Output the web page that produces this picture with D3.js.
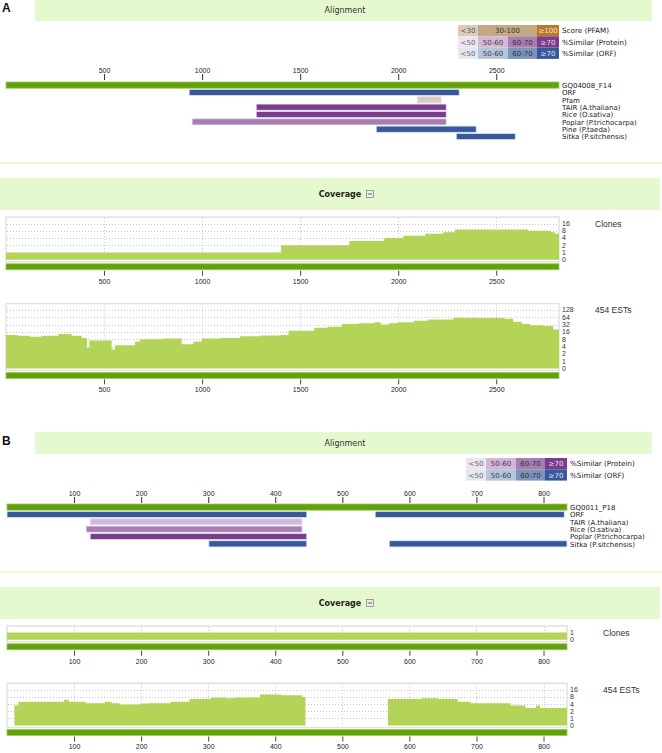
<!DOCTYPE html>
<html><head><meta charset="utf-8">
<script src="https://cdn.jsdelivr.net/npm/d3@7"></script>
<style>body{margin:0;background:#fff}svg{display:block}</style>
</head><body>
<svg id="c" width="662" height="753"></svg>
<script>
// ---------------- DATA ----------------
const panelNames = ["A", "B"];
const lengthA = 2820, lengthB = 835;
const seqNameA = "GQ04008_F14", seqNameB = "GQ0011_P18";
const ticksA = [500, 1000, 1500, 2000, 2500];
const ticksB = [100, 200, 300, 400, 500, 600, 700, 800];
const scoreLegend = ["<30", "30-100", "≥100"];
const simLegend = ["<50", "50-60", "60-70", "≥70"];
const legendRowNames = ["Score (PFAM)", "%Similar (Protein)", "%Similar (ORF)"];

const tracksA = ["ORF", "Pfam", "TAIR (A.thaliana)", "Rice (O.sativa)", "Poplar (P.trichocarpa)", "Pine (P.taeda)", "Sitka (P.sitchensis)"];
const hitTrackA = [0, 1, 2, 3, 4, 5, 6];
const hitStartA = [934, 2097, 1276, 1276, 949, 1888, 2296];
const hitEndA = [2311, 2219, 2245, 2245, 2245, 2398, 2597];
const hitKindA = ["orf", "score", "protein", "protein", "protein", "orf", "orf"];
const hitClassA = [3, 0, 3, 3, 2, 3, 3];

const tracksB = ["ORF", "TAIR (A.thaliana)", "Rice (O.sativa)", "Poplar (P.trichocarpa)", "Sitka (P.sitchensis)"];
const hitTrackB = [0, 0, 1, 2, 3, 4, 4];
const hitStartB = [0, 549, 124, 118, 124, 301, 570];
const hitEndB = [447, 831, 440, 440, 447, 447, 835];
const hitKindB = ["orf", "orf", "protein", "protein", "protein", "orf", "orf"];
const hitClassB = [3, 3, 1, 2, 3, 3, 3];

const clonesLevelsA = [16, 8, 4, 2, 1, 0];
const clonesAPos = [0, 1403, 1750, 1929, 2026, 2138, 2230, 2290, 2663, 2776, 2800];
const clonesAVal = [1, 2, 3, 4, 5, 6, 7, 9, 8, 7, 6];

const estLevelsA = [128, 64, 32, 16, 8, 4, 2, 1, 0];
const estAPos = [0, 60, 122, 180, 224, 267, 335, 386, 413, 425, 539, 556, 658, 684, 800, 896, 956, 998, 1092, 1194, 1300, 1400, 1441, 1572, 1640, 1713, 1800, 1880, 1910, 1952, 1997, 2080, 2150, 2281, 2400, 2543, 2586, 2630, 2672, 2740, 2790];
const estAVal = [12, 11, 10, 11, 11, 13, 11, 9, 3.5, 7, 3, 4.5, 6.5, 8, 8.5, 5, 6.5, 8.5, 9, 10.5, 11.5, 12, 18, 24, 26, 34, 36, 40, 32, 36, 40, 46, 52, 62, 60, 56, 42, 34, 30, 28, 20];

const clonesLevelsB = [1, 0];
const clonesBPos = [0];
const clonesBVal = [1];

const estLevelsB = [16, 8, 4, 2, 1, 0];
const estBPos = [0, 11, 17, 85, 92, 117, 146, 156, 168, 199, 212, 244, 272, 304, 326, 339, 377, 409, 440, 445, 568, 618, 643, 672, 691, 751, 773, 789, 795];
const estBVal = [0, 3.5, 5, 6, 5, 4.3, 5, 4.3, 3.8, 4.2, 4.3, 5, 6.5, 7.5, 7, 7.5, 10, 9.5, 8, 0, 6.5, 7, 6.5, 5, 4.3, 3.5, 2.7, 3.5, 2.7];

// ---------------- STYLE ----------------
const COL = {
  band: "#e4f9cd", green: "#62a10a", greenStroke: "#98cb58", area: "#b4d457",
  frame: "#e2e2e2", grid: "#b8b8b8", text: "#222"
};
const orfColors = ["#e4e8f0", "#b4c4da", "#7b94ba", "#37599b"];
const protColors = ["#efe4f0", "#d4b6d9", "#a97db2", "#7d3b8b"];
const scoreColors = ["#dccbba", "#c3a883", "#b87a2a"];
const simTextCol = ["#666", "#444", "#333", "#e0e0f0"];
const scoreTextCol = ["#555", "#333", "#f6e6c0"];
const FONT = "DejaVu Sans, Verdana, sans-serif";
const NFONT = "Liberation Sans, Arial, sans-serif";

const svg = d3.select("#c");
const lg = v => v <= 0 ? -1 : Math.log2(v);

function drawPanel(p) {
  const g = svg.append("g");
  const x = d3.scaleLinear().domain([0, p.length]).range(p.xRange);
  const xEnd = x(p.length);

  g.append("text").attr("x", 2).attr("y", p.top + 12).text(p.name)
    .attr("font-family", NFONT).attr("font-weight", "bold").attr("font-size", 12).attr("fill", "#111");

  g.append("rect").attr("x", 35).attr("y", p.top - 1).attr("width", 617).attr("height", 22).attr("fill", COL.band);
  g.append("text").attr("x", 345).attr("y", p.top + 13).attr("text-anchor", "middle").text("Alignment")
    .attr("font-family", FONT).attr("font-size", 8).attr("fill", "#333");

  let ly = p.legendTop;
  const rowH = 11.3;
  p.legendRows.forEach(r => {
    const widths = r.kind === "score" ? [20, 59, 22] : [20, 30, 29, 22];
    const labels = r.kind === "score" ? scoreLegend : simLegend;
    const cols = r.kind === "score" ? scoreColors : (r.kind === "protein" ? protColors : orfColors);
    const tcols = r.kind === "score" ? scoreTextCol : simTextCol;
    const total = d3.sum(widths);
    let cx = xEnd - total;
    labels.forEach((l, i) => {
      g.append("rect").attr("x", cx).attr("y", ly).attr("width", widths[i]).attr("height", rowH).attr("fill", cols[i]);
      g.append("text").attr("x", cx + widths[i] / 2).attr("y", ly + 8.3).attr("text-anchor", "middle").text(l)
        .attr("font-family", FONT).attr("font-size", 7).attr("fill", tcols[i]);
      cx += widths[i];
    });
    g.append("text").attr("x", xEnd + 3).attr("y", ly + 8.3).text(r.label)
      .attr("font-family", FONT).attr("font-size", 7.2).attr("fill", COL.text);
    ly += rowH;
  });

  const axTop = d3.axisTop(x).tickValues(p.ticks).tickSize(6).tickPadding(1.5).tickFormat(d3.format("d"));
  const ag = g.append("g").attr("transform", `translate(0,${p.axisY})`).call(axTop);
  ag.select(".domain").remove();
  ag.selectAll("line").attr("stroke", "#333");
  ag.selectAll("text").attr("font-family", NFONT).attr("font-size", 7).attr("fill", "#222");

  const rowStep = 7.35, barH = 6.2;
  const rowY = i => p.rowsTop + i * rowStep;
  g.append("rect").attr("x", x(0)).attr("y", rowY(0)).attr("width", x(p.length) - x(0)).attr("height", barH)
    .attr("fill", COL.green).attr("stroke", COL.greenStroke).attr("stroke-width", 0.8);
  const names = [p.seqName].concat(p.tracks);
  names.forEach((n, i) => {
    g.append("text").attr("x", xEnd + 3).attr("y", rowY(i) + 6).text(n)
      .attr("font-family", FONT).attr("font-size", 7).attr("fill", COL.text);
  });
  p.hitTrack.forEach((t, i) => {
    const kind = p.hitKind[i], c = p.hitClass[i];
    const fill = kind === "orf" ? orfColors[c] : kind === "protein" ? protColors[c] : scoreColors[c];
    g.append("rect").attr("x", x(p.hitStart[i])).attr("y", rowY(t + 1))
      .attr("width", x(p.hitEnd[i]) - x(p.hitStart[i])).attr("height", barH)
      .attr("fill", fill).attr("stroke", "#dfe6f2").attr("stroke-width", 0.8);
  });

  g.append("rect").attr("x", 0).attr("y", p.sepY).attr("width", 662).attr("height", 1.5).attr("fill", COL.band);

  g.append("rect").attr("x", 0).attr("y", p.covTop).attr("width", 660).attr("height", 32).attr("fill", COL.band);
  g.append("text").attr("x", 340).attr("y", p.covTop + 19).attr("text-anchor", "middle").text("Coverage")
    .attr("font-family", FONT).attr("font-weight", "bold").attr("font-size", 8).attr("fill", "#222");
  g.append("rect").attr("x", 366.5).attr("y", p.covTop + 12.5).attr("width", 7).attr("height", 7)
    .attr("fill", "#eee").attr("stroke", "#888").attr("stroke-width", 0.8);
  g.append("line").attr("x1", 368.3).attr("x2", 372).attr("y1", p.covTop + 16).attr("y2", p.covTop + 16)
    .attr("stroke", "#444").attr("stroke-width", 0.9);

  p.charts.forEach(ch => {
    const maxE = lg(ch.levels[0]);
    const y = d3.scaleLinear().domain([-1, maxE]).range([ch.zeroY, ch.zeroY - (maxE + 1) * ch.step]);
    const boxTop = y(maxE) - 6.5, boxBot = ch.zeroY + 2;
    g.append("rect").attr("x", x(0)).attr("y", boxTop).attr("width", xEnd - x(0)).attr("height", boxBot - boxTop)
      .attr("fill", "#fff").attr("stroke", COL.frame).attr("stroke-width", 1.5);
    ch.levels.filter(v => v > 0).forEach(v => {
      g.append("line").attr("x1", x(0) + 1).attr("x2", xEnd - 1).attr("y1", Math.round(y(lg(v))) + 0.5).attr("y2", Math.round(y(lg(v))) + 0.5)
        .attr("stroke", COL.grid).attr("stroke-width", 0.8).attr("stroke-dasharray", "1,2");
    });
    p.ticks.forEach(t => {
      g.append("line").attr("x1", Math.round(x(t)) + 0.5).attr("x2", Math.round(x(t)) + 0.5).attr("y1", boxTop + 1).attr("y2", ch.zeroY)
        .attr("stroke", COL.grid).attr("stroke-width", 0.8).attr("stroke-dasharray", "1,2");
    });
    const pts = ch.pos.map((d, i) => ({ pos: d, val: ch.val[i] }));
    pts.push({ pos: p.length, val: ch.val[ch.val.length - 1] });
    const area = d3.area().curve(d3.curveStepAfter)
      .x(d => x(d.pos)).y0(ch.zeroY).y1(d => d.val <= 0 ? ch.zeroY : y(lg(d.val)));
    g.append("path").datum(pts).attr("d", area).attr("fill", COL.area);
    ch.levels.forEach(v => {
      g.append("text").attr("x", xEnd + 3).attr("y", y(lg(v))).attr("dy", "0.35em").text(v)
        .attr("font-family", NFONT).attr("font-size", 7).attr("fill", "#333");
    });
    g.append("text").attr("x", xEnd + 36).attr("y", y(maxE) + 3).text(ch.title)
      .attr("font-family", NFONT).attr("font-size", 8.5).attr("fill", "#333");
    const gb = ch.zeroY + 4;
    g.append("rect").attr("x", x(0)).attr("y", gb).attr("width", xEnd - x(0)).attr("height", 6)
      .attr("fill", COL.green).attr("stroke", COL.greenStroke).attr("stroke-width", 0.8);
    const axB = d3.axisBottom(x).tickValues(p.ticks).tickSize(5).tickPadding(3).tickFormat(d3.format("d"));
    const bg = g.append("g").attr("transform", `translate(0,${gb + 7})`).call(axB);
    bg.select(".domain").remove();
    bg.selectAll("line").attr("stroke", "#444");
    bg.selectAll("text").attr("font-family", NFONT).attr("font-size", 7).attr("fill", "#222");
  });
}

drawPanel({
  name: panelNames[0], top: 0, length: lengthA, xRange: [6, 559], ticks: ticksA,
  legendTop: 25, legendRows: [
    { kind: "score", label: legendRowNames[0] },
    { kind: "protein", label: legendRowNames[1] },
    { kind: "orf", label: legendRowNames[2] }],
  axisY: 80, rowsTop: 82, seqName: seqNameA, tracks: tracksA,
  hitTrack: hitTrackA, hitStart: hitStartA, hitEnd: hitEndA, hitKind: hitKindA, hitClass: hitClassA,
  sepY: 162.5, covTop: 178,
  charts: [
    { title: "Clones", levels: clonesLevelsA, pos: clonesAPos, val: clonesAVal, zeroY: 259.75, step: 7.25 },
    { title: "454 ESTs", levels: estLevelsA, pos: estAPos, val: estAVal, zeroY: 368.4, step: 7.3 }
  ]
});

drawPanel({
  name: panelNames[1], top: 433, length: lengthB, xRange: [7, 567], ticks: ticksB,
  legendTop: 458, legendRows: [
    { kind: "protein", label: legendRowNames[1] },
    { kind: "orf", label: legendRowNames[2] }],
  axisY: 503, rowsTop: 504, seqName: seqNameB, tracks: tracksB,
  hitTrack: hitTrackB, hitStart: hitStartB, hitEnd: hitEndB, hitKind: hitKindB, hitClass: hitClassB,
  sepY: 571.5, covTop: 587,
  charts: [
    { title: "Clones", levels: clonesLevelsB, pos: clonesBPos, val: clonesBVal, zeroY: 639.75, step: 7.25 },
    { title: "454 ESTs", levels: estLevelsB, pos: estBPos, val: estBVal, zeroY: 725.5, step: 7.15 }
  ]
});
</script>
</body></html>
